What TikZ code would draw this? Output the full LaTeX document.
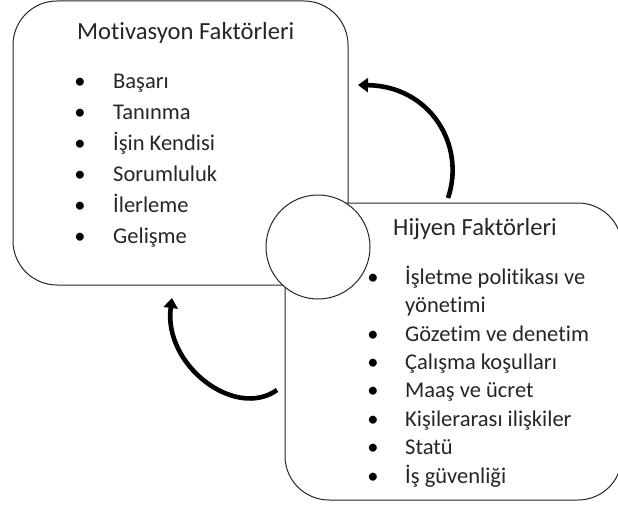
\documentclass[tikz,border=0pt]{standalone}
\usepackage{fontspec}
\setmainfont{Carlito}[RawFeature=-liga]
\usetikzlibrary{arrows.meta}
\begin{document}
\begin{tikzpicture}[x=1pt,y=-1pt,
  framebox/.style={draw=black!85, line width=1pt, rounded corners=44pt, fill=white,
    inner sep=0pt, outer sep=0pt},
  hub/.style={draw=black!85, line width=1pt, circle, fill=white, minimum size=104pt,
    inner sep=0pt, outer sep=0pt},
  ttl/.style={anchor=base west, inner sep=0pt, text=black!85,
    font=\fontsize{24.6}{29}\selectfont},
  txt/.style={anchor=base west, inner sep=0pt, text=black!85,
    font=\fontsize{22.5}{27}\selectfont},
  bul/.style={anchor=base, inner sep=0pt, text=black,
    font=\fontsize{22.5}{27}\selectfont},
  cyc/.style={line width=4.6pt, -{Triangle[length=10pt,width=14pt]}}
]
\useasboundingbox (0,0) rectangle (618,508);
\clip (0,0) rectangle (618,508);
% Motivasyon box
\node[framebox, minimum width=335pt, minimum height=284pt] (mot) at (180.5,143) {};
\node[ttl] (mtitle) at (77,40) {Motivasyon Faktörleri};
\foreach \i/\t [count=\k] in {89/Başarı, 119.8/Tanınma, 150.6/İşin Kendisi, 181.4/Sorumluluk, 212.2/İlerleme, 243/Gelişme}{
  \node[bul] (mb\k) at (80,\i) {•};
  \node[txt] (mt\k) at (113,\i) {\t};
}
% arrows
\coordinate (a1s) at (448,198);
\coordinate (a1e) at (358,85);
\draw[cyc] (a1s) .. controls (466,145) and (430,86) .. (a1e);
\coordinate (a2s) at (277,390);
\coordinate (a2e) at (172,298);
\draw[cyc] (a2s) .. controls (235,420) and (163,365) .. (a2e);
% Hijyen box
\node[framebox, minimum width=337pt, minimum height=297pt] (hij) at (453.5,351.5) {};
\node[ttl] (htitle) at (393,235) {Hijyen Faktörleri};
\foreach \i/\t [count=\k] in {284.3/İşletme politikası ve, 341/Gözetim ve denetim, 369.5/Çalışma koşulları, 397.9/Maaş ve ücret, 426.3/Kişilerarası ilişkiler, 454.7/Statü, 483/İş güvenliği}{
  \node[bul] (hb\k) at (373,\i) {•};
  \node[txt] (ht\k) at (405,\i) {\t};
}
\node[txt] (ht1b) at (405,312.7) {yönetimi};
% circle
\node[hub] (c) at (318,247) {};
\end{tikzpicture}
\end{document}
